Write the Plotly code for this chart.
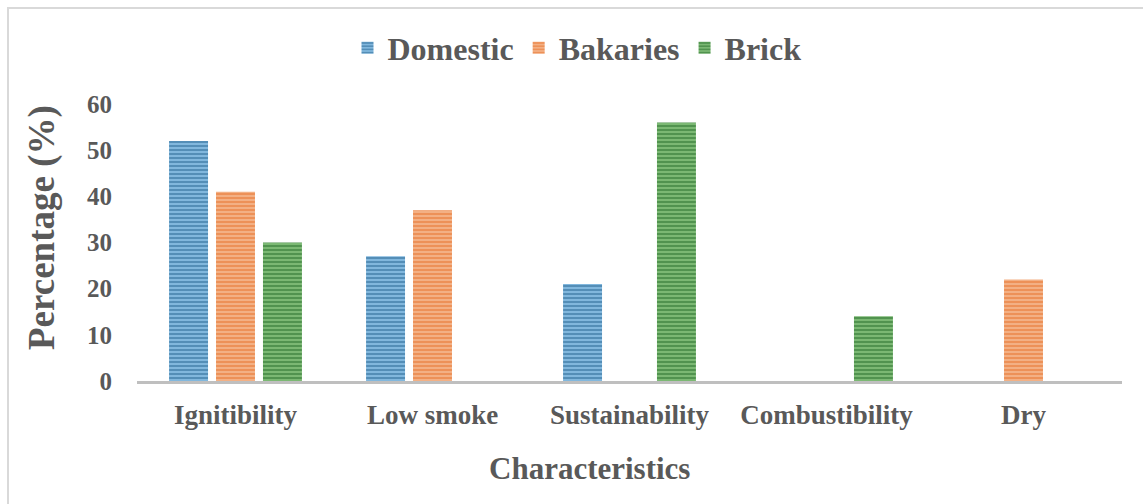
import plotly.graph_objects as go

categories = ["Ignitibility", "Low smoke", "Sustainability", "Combustibility", "Dry"]
domestic = [52, 27, 21, 0, 0]
bakaries = [41, 37, 0, 0, 22]
brick = [30, 0, 56, 14, 0]
y_ticks = [0, 10, 20, 30, 40, 50, 60]

W, H = 1143, 504
L, R, T, B = 137, 21, 104, 123
pw, ph = W - L - R, H - T - B

FONT = "Liberation Serif, Times New Roman, serif"
GRAY = "#595959"

series = [
    ("Domestic", domestic, "#1B5A88", "#8CC2E6"),
    ("Bakaries", bakaries, "#E56A22", "#F5B88E"),
    ("Brick", brick, "#1B6522", "#86C17C"),
]

fig = go.Figure()
for name, vals, fg, bg in series:
    fig.add_trace(go.Bar(
        name=name, x=categories, y=vals,
        marker=dict(
            color=bg,
            line=dict(width=0),
            pattern=dict(shape="-", fgcolor=fg, bgcolor=bg, size=4, solidity=0.6, fillmode="overlay"),
        ),
    ))


def px_x(px):
    return (px - L) / pw


def px_y(py):
    return (H - B - py) / ph


fig.update_layout(
    width=W, height=H,
    margin=dict(l=L, r=R, t=T, b=B),
    paper_bgcolor="white", plot_bgcolor="white",
    barmode="group", bargap=0.285, bargroupgap=0.17,
    font=dict(family=FONT, color=GRAY, size=22, weight="bold"),
    legend=dict(
        orientation="h", x=px_x(577), xanchor="center", y=px_y(48), yanchor="middle",
        font=dict(size=32, family=FONT, color=GRAY, weight="bold"), itemwidth=30, traceorder="normal",
    ),
    xaxis=dict(
        showline=True, linecolor="#BFBFBF", linewidth=3, ticks="",
        tickfont=dict(size=27, family=FONT, color=GRAY, weight="bold"),
        ticklabelstandoff=8,
    ),
    yaxis=dict(
        range=[0, 60], tickvals=y_ticks, showgrid=False, zeroline=False, showline=False,
        tickfont=dict(size=25, family=FONT, color=GRAY, weight="bold"),
        ticklabelstandoff=24,
    ),
    annotations=[
        dict(text="Characteristics", xref="paper", yref="paper", x=px_x(589), y=px_y(468),
             xanchor="center", yanchor="middle", showarrow=False,
             font=dict(size=31, family=FONT, color=GRAY, weight="bold")),
        dict(text="Percentage (%)", xref="paper", yref="paper", x=px_x(42), y=px_y(228),
             xanchor="center", yanchor="middle", showarrow=False, textangle=-90,
             font=dict(size=37, family=FONT, color=GRAY, weight="bold")),
    ],
    shapes=[dict(
        type="rect", xref="paper", yref="paper",
        x0=px_x(8), x1=px_x(W + 10),
        y0=px_y(H + 10), y1=px_y(8),
        line=dict(color="#D9D9D9", width=2), fillcolor="rgba(0,0,0,0)", layer="below",
    )],
)

fig.write_html("out.html")
